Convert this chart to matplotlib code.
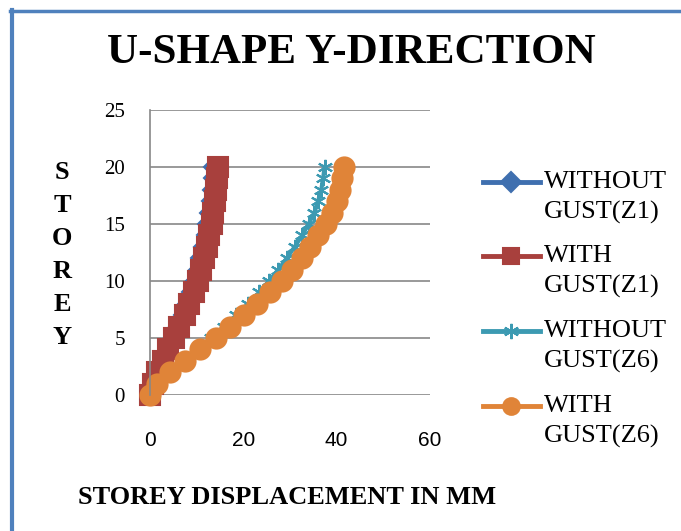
import matplotlib.pyplot as plt
from matplotlib.lines import Line2D

storey = list(range(21))
without_gust_z1 = [0, 0.5, 1.5, 2.6, 3.6, 4.8, 5.8, 6.8, 7.7, 8.6, 9.4,
                   10.1, 10.6, 11.2, 11.7, 12.1, 12.5, 12.8, 13.0, 13.2, 13.3]
with_gust_z1 = [0, 0.6, 1.6, 2.8, 3.9, 5.2, 6.3, 7.4, 8.4, 9.4, 10.3,
                11.0, 11.6, 12.2, 12.7, 13.2, 13.6, 13.9, 14.2, 14.4, 14.6]
without_gust_z6 = [0, 0.8, 4.0, 7.0, 10.0, 13.0, 15.8, 18.5, 21.0, 23.4, 25.5,
                   27.5, 29.3, 31.0, 32.6, 34.0, 35.2, 36.0, 36.7, 37.1, 37.4]
with_gust_z6 = [0, 1.4, 4.3, 7.6, 10.7, 14.1, 17.1, 20.1, 23.0, 25.7, 28.2,
                30.4, 32.5, 34.3, 36.1, 37.7, 39.1, 40.0, 40.7, 41.1, 41.5]

series_names = ["WITHOUT\nGUST(Z1)", "WITH\nGUST(Z1)", "WITHOUT\nGUST(Z6)", "WITH\nGUST(Z6)"]
x_ticks = [0, 20, 40, 60]
y_ticks = [0, 5, 10, 15, 20, 25]

serif = "Liberation Serif"
colors = ["#3F6FAF", "#A8403D", "#3C9AB2", "#E08438"]
markers = ["D", "s", (6, 2, 0), "o"]
msizes = [8, 14, 11, 14.5]

fig = plt.figure(figsize=(6.81, 5.31), dpi=100)
ax = fig.add_axes([150 / 681, 1 - 395 / 531, 280 / 681, 285 / 531])

all_series = [without_gust_z1, with_gust_z1, without_gust_z6, with_gust_z6]
for vals, c, m, ms in zip(all_series, colors, markers, msizes):
    ax.plot(vals, storey, color=c, lw=3, marker=m, ms=ms, mew=1.5, clip_on=False)

ax.set_xlim(0, 60)
ax.set_ylim(0, 25)
ax.set_xticks(x_ticks)
ax.set_yticks(y_ticks)
ax.tick_params(length=0)
ax.tick_params(axis="x", pad=26, labelsize=15)
ax.tick_params(axis="y", pad=18, labelsize=15)
for lab in ax.get_yticklabels():
    lab.set_fontfamily(serif)
for lab in ax.get_xticklabels():
    lab.set_fontfamily("Liberation Sans")
ax.grid(axis="y", color="#888888", lw=1.2)
ax.set_axisbelow(True)
for s in ["top", "right", "bottom"]:
    ax.spines[s].set_visible(False)
ax.spines["left"].set_color("#888888")
ax.spines["left"].set_linewidth(1.2)

# legend, drawn by hand so the marker lines up with the first text line
leg_rows = [182, 256, 331, 406]
for name, c, m, ms, yy in zip(series_names, colors, markers, msizes, leg_rows):
    yf = 1 - yy / 531
    fig.add_artist(Line2D([483 / 681, 511.5 / 681, 540 / 681], [yf, yf, yf],
                          transform=fig.transFigure, color=c, lw=3.5, marker=m,
                          ms=max(min(ms, 12), 10), mew=1.5, markevery=[1]))
    first, second = name.split("\n")
    fig.text(544 / 681, yf, first, ha="left", va="center", family=serif, size=19)
    fig.text(544 / 681, 1 - (yy + 30) / 531, second, ha="left", va="center",
             family=serif, size=19)

fig.text(351 / 681, 1 - 53 / 531, "U-SHAPE Y-DIRECTION", ha="center", va="center",
         family=serif, weight="bold", size=31)
fig.text(62 / 681, 1 - 255 / 531, "S\nT\nO\nR\nE\nY", ha="center", va="center",
         family=serif, weight="bold", size=19, linespacing=1.55)
fig.text(287 / 681, 1 - 497 / 531, "STOREY DISPLACEMENT IN MM", ha="center",
         va="center", family=serif, weight="bold", size=19)

# blue frame on the left and top edges
fig.add_artist(Line2D([11.5 / 681, 11.5 / 681], [0, 1 - 10 / 531],
                      transform=fig.transFigure, color="#4F81BD", lw=3))
fig.add_artist(Line2D([10 / 681, 1], [1 - 11 / 531, 1 - 11 / 531],
                      transform=fig.transFigure, color="#4F81BD", lw=2.5))

fig.savefig("out.png", dpi=100)
